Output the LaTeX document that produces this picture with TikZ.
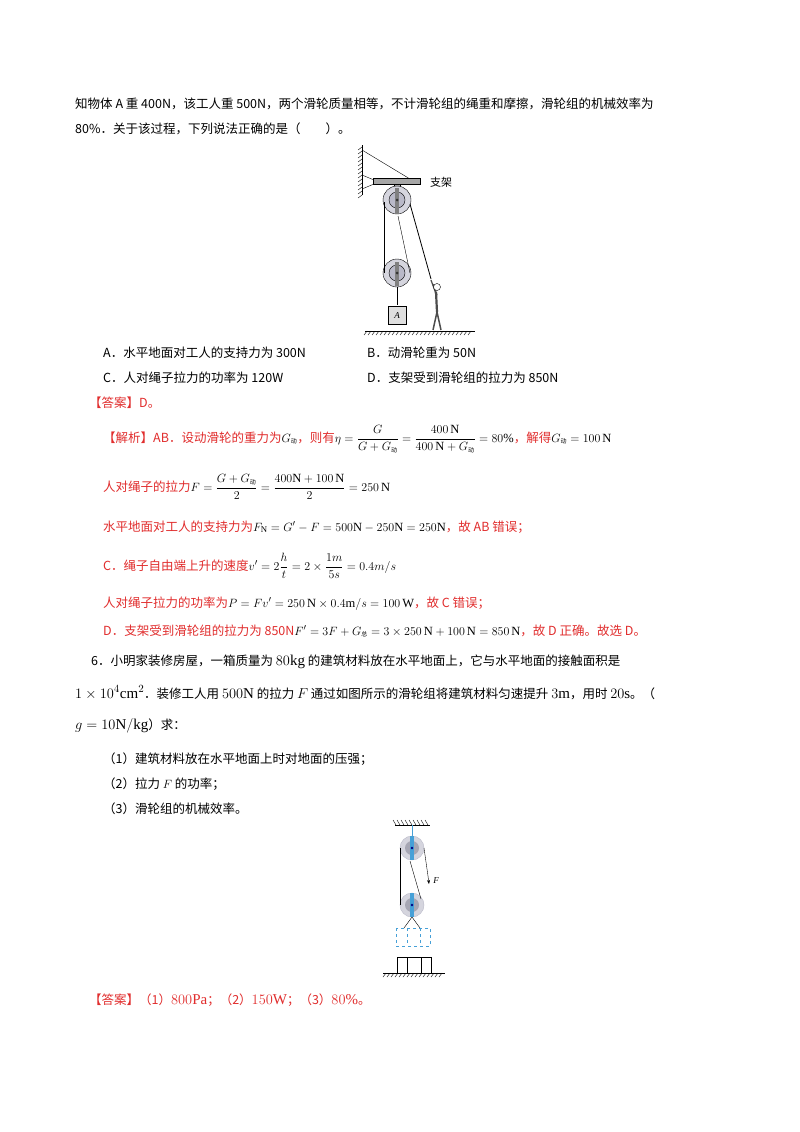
\documentclass[tikz,border=0pt]{standalone}
\usepackage{fontspec}
\usepackage{amsmath}
\setmainfont{Liberation Serif}
\newfontfamily\cjk{Noto Sans CJK SC}
\usetikzlibrary{patterns,arrows.meta}
\definecolor{rd}{RGB}{225,45,45}
\definecolor{pul}{RGB}{185,185,200}
\definecolor{blu}{RGB}{70,160,215}
\newcommand{\sd}{\mbox{\cjk\fontsize{6}{6}\selectfont 动}}
\newcommand{\sz}{\mbox{\cjk\fontsize{6}{6}\selectfont 总}}
\newcommand{\bm}[1]{{\color{black}#1}}
\newcommand{\bg}[1]{{\fontsize{15}{16}\selectfont #1}}
\tikzset{tx/.style={anchor=base west,inner sep=0pt,font=\cjk\fontsize{12.5}{14}\selectfont},
 rt/.style={tx,text=rd},
 hatch/.style={thin}}
\begin{document}
\begin{tikzpicture}[x=1pt,y=-1pt]
\useasboundingbox (0,0) rectangle (800,1132);
\fill[white] (0,0) rectangle (800,1132);
% text
\node[tx] (t1) at (75,108) {知物体 A 重 400N，该工人重 500N，两个滑轮质量相等，不计滑轮组的绳重和摩擦，滑轮组的机械效率为};
\node[tx] (t2) at (75,133) {80\%．关于该过程，下列说法正确的是（\qquad ）。};
\node[tx] (oa) at (103,357) {A．水平地面对工人的支持力为 300N};
\node[tx] (ob) at (367,357) {B．动滑轮重为 50N};
\node[tx] (oc) at (103,382) {C．人对绳子拉力的功率为 120W};
\node[tx] (od) at (367,382) {D．支架受到滑轮组的拉力为 850N};
\node[rt] (an) at (89,407) {【答案】D。};
\node[rt] (j1) at (103,442) {【解析】AB．设动滑轮的重力为\bm{$G_{\sd}$}，则有\bm{$\eta=\dfrac{G}{G+G_{\sd}}=\dfrac{400\,\mathrm{N}}{400\,\mathrm{N}+G_{\sd}}=80\%$}，解得\bm{$G_{\sd}=100\,\mathrm{N}$}};
\node[rt] (j2) at (103,491) {人对绳子的拉力\bm{$F=\dfrac{G+G_{\sd}}{2}=\dfrac{400\mathrm{N}+100\,\mathrm{N}}{2}=250\,\mathrm{N}$}};
\node[rt] (j3) at (103,531) {水平地面对工人的支持力为\bm{$F_{\mathrm{N}}=G'-F=500\mathrm{N}-250\mathrm{N}=250\mathrm{N}$}，故 AB 错误；};
\node[rt] (j4) at (103,570) {C．绳子自由端上升的速度\bm{$v'=2\dfrac{h}{t}=2\times\dfrac{1m}{5s}=0.4m/s$}};
\node[rt] (j5) at (103,607) {人对绳子拉力的功率为\bm{$P=Fv'=250\,\mathrm{N}\times0.4\mathrm{m}/s=100\,\mathrm{W}$}，故 C 错误；};
\node[rt] (j6) at (103,635) {D．支架受到滑轮组的拉力为 850N\bm{$F'=3F+G_{\sz}=3\times250\,\mathrm{N}+100\,\mathrm{N}=850\,\mathrm{N}$}，故 D 正确。故选 D。};
\node[tx] (q1) at (91,665) {6．小明家装修房屋，一箱质量为 \bg{$80\mathrm{kg}$} 的建筑材料放在水平地面上，它与水平地面的接触面积是};
\node[tx] (q2) at (75,698) {\bg{$1\times10^4\mathrm{cm}^2$}．装修工人用 \bg{$500\mathrm{N}$} 的拉力 \bg{$F$} 通过如图所示的滑轮组将建筑材料匀速提升 \bg{$3\mathrm{m}$}，用时 \bg{$20\mathrm{s}$}。（};
\node[tx] (q3) at (75,729) {\bg{$g=10\mathrm{N/kg}$}）求：};
\node[tx] (q4) at (103,763) {（1）建筑材料放在水平地面上时对地面的压强；};
\node[tx] (q5) at (103,788) {（2）拉力 $F$ 的功率；};
\node[tx] (q6) at (103,813) {（3）滑轮组的机械效率。};
\node[rt] (a2) at (89,1004) {【答案】（1）\bg{$800\mathrm{Pa}$}；（2）\bg{$150\mathrm{W}$}；（3）\bg{$80\%$}。};
% figure 1
\draw[thick] (362,145) -- (362,195);
\foreach \y in {147,151,...,195} \draw[hatch] (362,\y) -- (358,\y+3);
\draw (362,150) -- (410,179);
\draw (362,175) -- (374,180) (362,189) -- (374,184);
\draw[fill=gray!70] (373,178) rectangle (420,184);
\node[tx,font=\cjk\fontsize{11}{13}\selectfont] (zj) at (430,186) {支架};
\draw[fill=gray!60] (394,184) rectangle (400,192);
\draw[fill=pul!60] (397,200) circle (14);
\draw[fill=pul] (397,200) circle (8);
\fill[gray] (395,188) rectangle (399,214);
\fill[gray!40!black] (397,200) circle (1.5);
\draw[fill=pul!60] (397,273) circle (14);
\draw[fill=pul] (397,273) circle (8);
\fill[gray] (395,262) rectangle (399,286);
\fill[gray!40!black] (397,273) circle (1.5);
\draw (384,202) -- (384,273);
\draw (410,273) -- (398,216);
\draw[thick] (410,204) -- (431,279);
\draw (397,287) -- (397,305);
\draw[fill=gray!25] (388,306) rectangle (406,324);
\node[font=\itshape\small] (A) at (397,316) {A};
\draw[thick] (365,331) -- (475,331);
\foreach \x in {367,371,...,473} \draw[hatch] (\x,331) -- (\x-3,335);
% worker
\draw[gray!60!black,line width=2.2] (436,292) -- (437,312);
\draw[gray!60!black,line width=1.5] (437,312) -- (433,330) (437,312) -- (441,330);
\draw[gray!60!black,line width=1.2] (436,294) -- (431,280) (437,295) -- (433,284);
\draw[fill=white] (437,287) circle (3.5);
% figure 2
\draw (395,825) -- (430,825);
\foreach \x in {396,400,...,430} \draw[hatch] (\x,825) -- (\x-3,820);
\draw[blu] (412,825) -- (412,836);
\foreach \c in {848,905}{
 \draw[pul,fill=pul!60] (412,\c) circle (12);
 \fill[pul!90!black] (412,\c) circle (7);
 \fill[blu] (410,\c-12) rectangle (414,\c+12);
 \fill[blue!50!black] (412,\c) circle (1.3);}
\draw (400,848) -- (400,905);
\draw (424,848) -- (428,876);
\draw[-{Stealth[length=4pt]}] (428,876) -- (429,884);
\node[font=\itshape\small] (F) at (436,881) {F};
\draw (410,861) -- (421,899);
\draw (412,917) -- (404,928) (412,917) -- (420,928);
\draw[blu,dashed] (396,928) rectangle (430,946) (407,928) -- (407,946) (420,928) -- (420,946);
\draw (397,957) rectangle (431,973) (407,957) -- (407,973) (421,957) -- (421,973);
\draw (383,973) -- (445,973);
\foreach \x in {386,390,...,445} \draw[hatch] (\x,973) -- (\x-3,977);
\end{tikzpicture}
\end{document}
